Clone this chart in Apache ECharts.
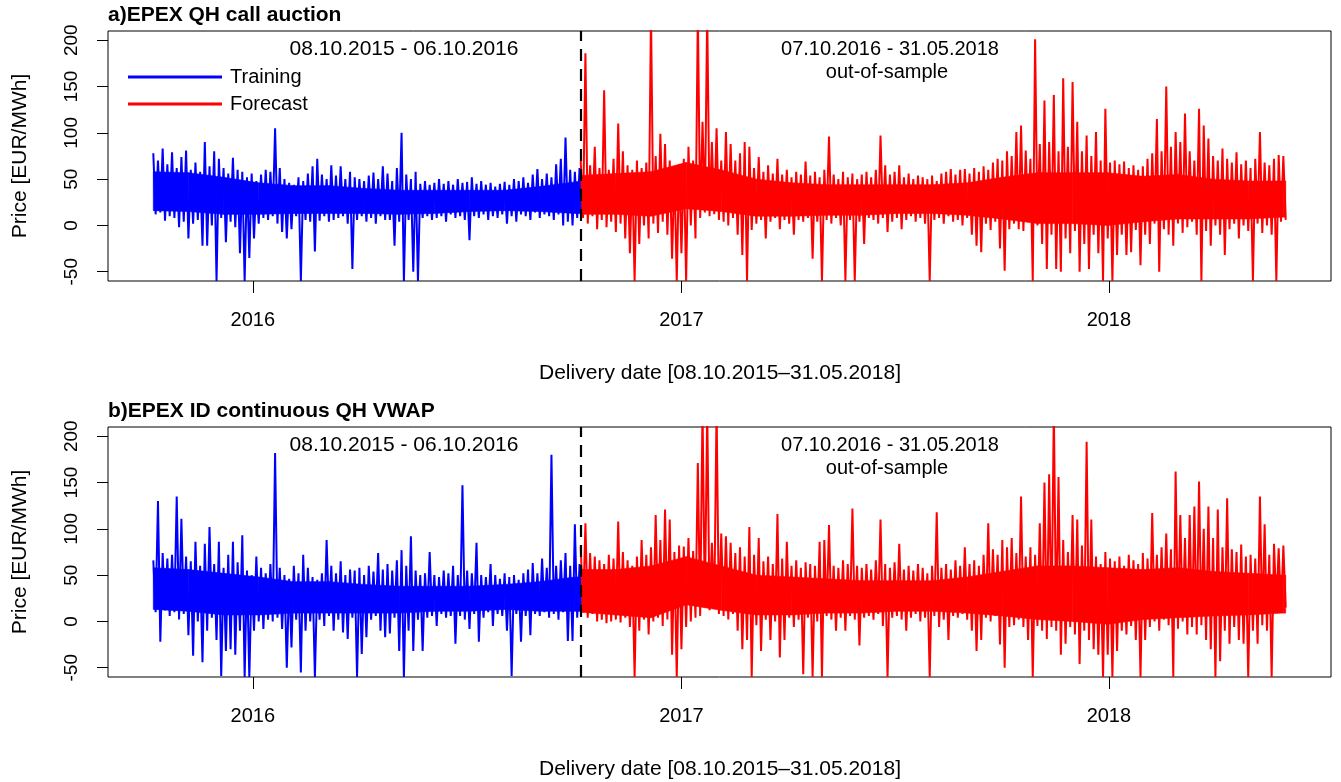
<!DOCTYPE html>
<html><head><meta charset="utf-8">
<script src="https://cdn.jsdelivr.net/npm/echarts@6/dist/echarts.min.js"></script>
<style>html,body{margin:0;padding:0;background:#fff}#c{width:1341px;height:782px}</style>
</head><body><div id="c"></div>
<script>
// ---- data ----
const trainStart = '2015-10-08';
const splitDate = '2016-10-07';
const endDate = '2018-05-31';
const stepDays = 4;      // one high and one low value per 4-day block
const coreStepDays = 30; // solid core band of the series, one low/high pair per 30 days
const yearTicks = ['2016-01-01', '2017-01-01', '2018-01-01'];
const yearLabels = ['2016', '2017', '2018'];
const yTicks = [-50, 0, 50, 100, 150, 200];

// a) EPEX QH call auction
const aTrainHi = [78,70,83,66,79,62,74,81,60,68,
 58,90,64,80,72,62,56,73,60,58,
 52,56,48,55,60,58,105,62,50,46,
 44,52,48,56,64,72,55,50,65,54,
 64,50,58,52,50,48,54,57,50,64,
 56,48,62,100,55,50,58,45,48,44,
 46,50,45,48,44,50,46,47,52,45,
 48,44,46,42,45,47,44,50,48,52,
 46,55,61,50,56,52,66,72,95,60,
 58,62];
const aTrainLo = [12,14,5,10,8,-2,4,-14,2,6,
 -22,-22,0,-60,8,-18,4,-2,-30,-60,
 -35,-14,2,8,6,10,2,-7,-14,-4,
 10,-60,6,4,-28,5,10,4,6,8,
 10,2,-47,6,10,4,8,2,10,6,
 6,-22,4,-60,6,-50,-60,8,10,6,
 8,10,4,12,8,10,6,-16,10,8,
 12,6,10,8,12,2,10,4,12,10,
 6,14,8,12,10,6,12,0,4,0,
 8,14];
const aFcHi = [70,186,65,85,62,146,60,72,110,80,
 65,60,70,62,68,230,75,99,88,70,
 60,66,72,85,70,230,112,230,90,105,
 70,101,88,70,78,90,85,62,74,58,
 65,56,72,55,60,52,58,55,69,54,
 58,52,60,96,55,50,58,52,56,50,
 55,58,52,60,97,65,55,58,65,52,
 56,50,54,52,50,54,48,56,58,61,
 55,60,61,56,62,58,64,60,68,72,
 70,80,75,101,108,81,72,201,88,135,
 90,141,80,159,85,155,112,80,97,75,
 101,70,126,68,70,66,69,62,65,60,
 64,72,78,115,80,150,85,101,90,121,
 80,70,126,108,94,75,70,83,72,68,
 79,66,70,62,72,101,68,65,72,76,
 75];
const aFcLo = [8,2,10,-4,6,-2,4,-7,2,-14,
 -30,-60,-20,0,-14,2,-8,4,-10,-36,
 -60,-30,-60,0,-14,8,14,10,12,6,
 4,0,8,-10,-32,-60,-5,2,6,-14,
 4,8,-4,6,2,-10,6,4,8,-36,
 4,-60,6,2,8,0,-60,6,-60,4,
 -20,8,6,2,8,-7,4,8,-4,6,
 10,4,8,2,-60,6,8,2,10,4,
 6,0,8,-10,-22,-29,2,-5,4,-25,
 -49,-4,2,-4,-6,4,-60,0,-20,-47,
 -10,-47,-50,-14,-30,-6,-50,-20,-47,-10,
 -30,-60,-14,-60,-32,-10,-32,-29,-5,-43,
 -10,-20,2,-50,-4,-10,-22,2,-8,-2,
 4,-10,-60,-6,-22,0,-10,-32,-4,2,
 -14,0,-6,-60,2,-8,0,-10,-60,4,
 6];
const aTrainCoreLo = [16,15,12,12,13,13,13,12,13,15,16,15,13,13];
const aTrainCoreHi = [58,57,52,46,43,43,40,38,38,38,38,42,47,48];
const aFcCoreLo = [12,12,10,18,15,10,10,11,11,13,13,11,7,2,2,0,4,7,7,7,9,9];
const aFcCoreHi = [54,56,58,68,60,50,46,44,44,44,44,46,52,57,57,57,53,55,50,48,48,48];

// b) EPEX ID continuous QH VWAP
const bTrainHi = [66,130,74,68,72,135,111,70,65,86,
 60,84,102,62,86,58,72,86,64,93,
 55,50,70,58,52,62,182,58,50,46,
 60,52,72,58,48,45,52,88,60,52,
 65,50,56,55,58,50,60,54,74,56,
 62,55,66,77,60,92,55,50,52,75,
 50,48,55,52,60,50,147,55,52,85,
 50,48,62,50,46,52,48,50,45,52,
 56,63,52,68,58,180,60,66,74,60,
 105,62];
const bTrainLo = [10,-22,12,6,10,2,8,-15,-37,0,
 -44,-10,4,-20,-59,-32,-30,-36,-10,-60,
 -60,-10,0,-8,2,0,4,-8,-50,-28,
 2,-55,-10,0,-60,2,-5,6,-10,2,
 -12,-19,4,-60,-35,-17,2,6,-10,-17,
 -13,4,-32,-60,-10,-32,2,-32,4,6,
 -5,8,4,6,-24,6,2,-8,8,-22,
 4,10,-5,8,6,-10,-59,8,-22,6,
 -15,8,6,10,4,8,2,10,-21,-21,
 4,10];
const bFcHi = [81,106,74,70,66,62,72,68,108,75,
 66,60,70,88,72,80,115,88,121,110,
 75,82,81,90,76,171,230,230,85,230,
 95,92,85,74,80,70,102,72,90,65,
 70,62,116,68,86,60,66,58,64,62,
 60,86,88,104,60,58,66,62,122,60,
 58,62,56,66,110,62,58,64,84,56,
 60,55,62,58,52,60,118,58,62,56,
 66,60,80,62,66,60,72,106,78,72,
 88,80,90,74,135,70,80,72,106,150,
 159,230,156,88,75,115,110,82,194,110,
 70,62,75,68,65,70,60,72,66,62,
 74,68,117,72,80,95,78,162,115,90,
 115,124,151,100,124,90,121,80,133,78,
 75,83,70,72,68,135,105,72,84,79,
 82];
const bFcLo = [10,4,8,0,2,-2,0,2,-1,4,
 -6,-60,-10,2,-14,0,4,-5,2,-36,
 -60,-30,-6,0,4,6,15,12,15,8,
 6,2,8,-10,-30,-20,-60,-4,-32,2,
 -20,0,-39,-20,4,-6,2,-57,4,-60,
 0,-60,6,2,-10,4,-10,6,2,-26,
 4,6,2,8,-5,-60,4,6,2,-10,
 4,8,0,4,-60,6,-6,2,-20,6,
 4,8,2,-10,-32,-20,4,0,6,-25,
 -50,-6,-4,2,-6,-20,-60,-5,-10,-19,
 -6,-10,-36,-24,-6,-14,-46,-10,-20,-30,
 -36,-60,-36,-60,-32,-10,-14,-5,-20,-60,
 -20,-6,0,-10,2,-4,-60,-8,0,-14,
 -6,-14,-4,-20,-30,-60,-43,-10,-24,-6,
 -20,-24,-60,-10,-24,-4,-10,-60,17,10,
 15];
const bTrainCoreLo = [13,11,7,7,9,9,9,9,11,11,13,11,11,11];
const bTrainCoreHi = [58,56,52,48,43,43,40,38,38,38,40,43,48,48];
const bFcCoreLo = [10,7,4,18,12,7,7,9,9,11,11,9,6,2,0,-3,2,4,6,7,9,9];
const bFcCoreHi = [56,56,60,70,60,50,48,46,44,44,44,48,54,60,60,58,56,58,54,52,50,50];

// ---- build ----
const DAY = 86400000;
const t = s => Date.parse(s + 'T00:00:00Z');
const tStart = t(trainStart), tSplit = t(splitDate), tEnd = t(endDate) + DAY;
const pad = 0.04 * (tEnd - tStart);
function zig(start, stop, hi, lo) {
  const t0 = t(start), out = [];
  for (let k = 0; k < hi.length; k++) {
    out.push([Math.min(t0 + k * stepDays * DAY, stop), hi[k]]);
    out.push([Math.min(t0 + (k * stepDays + 2) * DAY, stop), lo[k]]);
  }
  return out;
}
// band segments: [x0, lo0, hi0, x1, lo1, hi1]
function coreSegs(start, stop, lo, hi) {
  const t0 = t(start), xs = lo.map((_, k) => Math.min(t0 + k * coreStepDays * DAY, stop)), out = [];
  for (let k = 0; k < lo.length - 1; k++) out.push([xs[k], lo[k], hi[k], xs[k + 1], lo[k + 1], hi[k + 1]]);
  return out;
}
const FONT = '"Liberation Sans", Arial, Helvetica, sans-serif';
const xTickVals = yearTicks.map(t);
const tops = [31, 427];
const H = 250;

function xAxis(i) {
  return {
    type: 'value', gridIndex: i, min: tStart - pad, max: tEnd + pad,
    axisLine: { show: false, onZero: false },
    splitLine: { show: false },
    axisTick: { customValues: xTickVals, length: 12, lineStyle: { color: '#000', width: 1 } },
    axisLabel: {
      customValues: xTickVals, margin: 29, fontSize: 20, color: '#000', fontFamily: FONT,
      formatter: v => yearLabels[xTickVals.indexOf(v)] ?? ''
    }
  };
}
function yAxis(i) {
  return {
    type: 'value', gridIndex: i, min: -60, max: 210,
    axisLine: { show: false, onZero: false },
    splitLine: { show: false },
    axisTick: { customValues: yTicks, length: 11, lineStyle: { color: '#000', width: 1 } },
    axisLabel: { customValues: yTicks, rotate: 90, margin: 27, fontSize: 19, color: '#000', fontFamily: FONT }
  };
}
const mline = {
  symbol: 'none', silent: true, animation: false, label: { show: false },
  lineStyle: { color: '#000', type: [12, 8], width: 2.2 },
  data: [{ xAxis: tSplit }]
};
function ser(name, color, i, data, ml) {
  const s = {
    type: 'line', name, xAxisIndex: i, yAxisIndex: i, data,
    symbol: 'none', showSymbol: false, silent: true, animation: false, clip: true,
    lineStyle: { color, width: 2, join: 'bevel' }, itemStyle: { color }, z: 3
  };
  if (ml) s.markLine = mline;
  return s;
}
function band(name, color, i, start, stop, lo, hi) {
  return {
    type: 'custom', name, xAxisIndex: i, yAxisIndex: i, silent: true, animation: false, z: 2,
    itemStyle: { color }, encode: { x: [0, 3], y: [1, 2, 4, 5] },
    data: coreSegs(start, stop, lo, hi),
    renderItem(params, api) {
      const pts = [
        api.coord([api.value(0), api.value(1)]),
        api.coord([api.value(0), api.value(2)]),
        api.coord([api.value(3), api.value(5)]),
        api.coord([api.value(3), api.value(4)])
      ];
      return { type: 'polygon', shape: { points: pts }, style: { fill: color, stroke: color, lineWidth: 0.6 } };
    }
  };
}
function txt(str, x, y, size, opts = {}) {
  return {
    type: 'text', x, y, rotation: opts.rot || 0, silent: true, z: 10,
    style: {
      text: str, x: 0, y: 0, fill: '#000',
      font: (opts.bold ? 'bold ' : '') + size + 'px ' + FONT,
      align: opts.align || 'center', textAlign: opts.align || 'center',
      verticalAlign: 'middle', textVerticalAlign: 'middle'
    }
  };
}
const titles = ['a)EPEX QH call auction', 'b)EPEX ID continuous QH VWAP'];
const graphics = [];
[0, 1].forEach(i => {
  const o = tops[i] - 31;
  graphics.push(txt(titles[i], 108, 15 + o, 21, { bold: true, align: 'left' }));
  graphics.push(txt('08.10.2015 - 06.10.2016', 404, 49 + o, 21));
  graphics.push(txt('07.10.2016 - 31.05.2018', 890, 49 + o, 20));
  graphics.push(txt('out-of-sample', 887, 72 + o, 20));
  graphics.push(txt('Price [EUR/MWh]', 20, 156 + o, 21, { rot: Math.PI / 2 }));
  graphics.push(txt('Delivery date [08.10.2015\u201331.05.2018]', 720, 373 + o, 21));
});

const BLUE = '#0000ff', RED = '#ff0000';
const chart = echarts.init(document.getElementById('c'), null, { renderer: 'canvas' });
chart.setOption({
  animation: false,
  backgroundColor: '#fff',
  grid: tops.map(tp => ({ left: 108, width: 1223, top: tp, height: H, show: true, borderColor: '#000', borderWidth: 1, backgroundColor: 'transparent' })),
  xAxis: [xAxis(0), xAxis(1)],
  yAxis: [yAxis(0), yAxis(1)],
  legend: {
    data: ['Training', 'Forecast'], orient: 'vertical', left: 123, top: 62,
    icon: 'rect', itemWidth: 94, itemHeight: 3, itemGap: 7, selectedMode: false,
    textStyle: { fontSize: 20, color: '#000', fontFamily: FONT, padding: [0, 0, 0, 3] }
  },
  series: [
    ser('Training', BLUE, 0, zig(trainStart, tSplit, aTrainHi, aTrainLo), true),
    ser('Forecast', RED, 0, zig(splitDate, tEnd, aFcHi, aFcLo), false),
    ser('Training', BLUE, 1, zig(trainStart, tSplit, bTrainHi, bTrainLo), true),
    ser('Forecast', RED, 1, zig(splitDate, tEnd, bFcHi, bFcLo), false),
    band('Training', BLUE, 0, trainStart, tSplit, aTrainCoreLo, aTrainCoreHi),
    band('Forecast', RED, 0, splitDate, tEnd, aFcCoreLo, aFcCoreHi),
    band('Training', BLUE, 1, trainStart, tSplit, bTrainCoreLo, bTrainCoreHi),
    band('Forecast', RED, 1, splitDate, tEnd, bFcCoreLo, bFcCoreHi)
  ],
  graphic: graphics
});
</script></body></html>
